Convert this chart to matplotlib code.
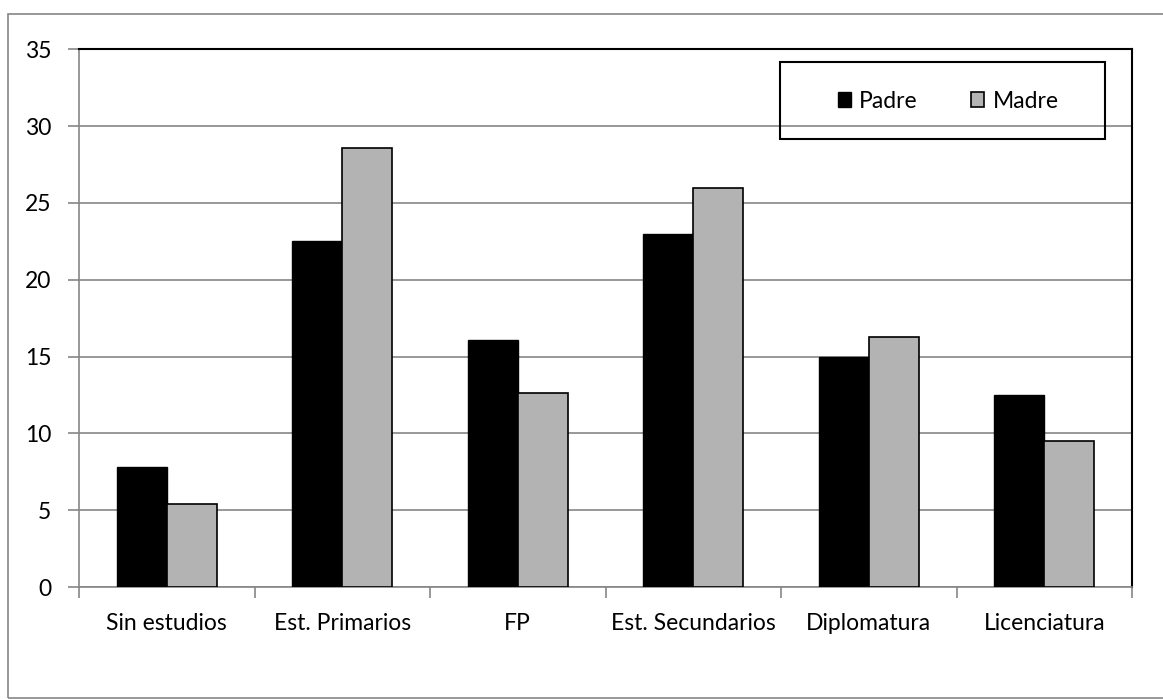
import numpy as np
from matplotlib import pyplot as plt
from matplotlib.patches import Rectangle

categorias = ["Sin estudios", "Est. Primarios", "FP", "Est. Secundarios", "Diplomatura", "Licenciatura"]
padre = [7.8, 22.5, 16.1, 23.0, 15.0, 12.5]
madre = [5.4, 28.6, 12.6, 26.0, 16.3, 9.5]
y_ticks = [0, 5, 10, 15, 20, 25, 30, 35]

GRIS_EJE = "#868686"
GRIS_BARRA = "#b3b3b3"

plt.rcParams['font.family'] = ['Lato', 'DejaVu Sans']

W, H = 1163, 699
fig = plt.figure(figsize=(W / 100, H / 100), dpi=100)

# marco exterior del grafico (solo se ven los bordes superior e izquierdo)
fig.patches.append(Rectangle((8 / W, 1 - 698 / H), 1.2, (698 - 14) / H,
                             transform=fig.transFigure, fill=False,
                             edgecolor=GRIS_EJE, linewidth=1.2))

ax_left, ax_right, ax_top, ax_bottom = 79, 1132, 49.3, 587
ax = fig.add_axes([ax_left / W, 1 - ax_bottom / H, (ax_right - ax_left) / W, (ax_bottom - ax_top) / H])

x = np.arange(len(categorias))
ancho = 0.285
ax.bar(x - ancho / 2, padre, ancho, color="black", edgecolor="black", linewidth=1, label="Padre", zorder=3)
ax.bar(x + ancho / 2, madre, ancho, color=GRIS_BARRA, edgecolor="black", linewidth=1.2, label="Madre", zorder=3)

ax.set_xlim(-0.5, len(categorias) - 0.5)
ax.set_ylim(0, 35)
ax.set_yticks(y_ticks)
ax.set_yticklabels([str(v) for v in y_ticks], fontsize=16.5)
ax.yaxis.grid(True, color=GRIS_EJE, linewidth=1.2, zorder=0)

# marcas del eje x entre categorias, etiquetas centradas
ax.set_xticks(np.arange(len(categorias) + 1) - 0.5)
ax.set_xticklabels([])
ax.set_xticks(x, minor=True)
ax.set_xticklabels(categorias, minor=True, fontsize=16.5)
ax.tick_params(axis="x", which="minor", length=0, pad=19)
ax.tick_params(axis="x", which="major", length=8, color=GRIS_EJE, width=1.2)
ax.tick_params(axis="y", length=8, color=GRIS_EJE, width=1.2, pad=12)

for lado in ["left", "bottom"]:
    ax.spines[lado].set_color(GRIS_EJE)
    ax.spines[lado].set_linewidth(1.2)
for lado in ["top", "right"]:
    ax.spines[lado].set_color("black")
    ax.spines[lado].set_linewidth(1.5)


def fx(px):
    return (px - ax_left) / (ax_right - ax_left)


def fy(py):
    return (ax_bottom - py) / (ax_bottom - ax_top)


# caja de la leyenda, sin relleno (la rejilla se ve a traves)
caja = Rectangle((fx(780), fy(139.3)), fx(1105) - fx(780), fy(61.7) - fy(139.3),
                 transform=ax.transAxes, fill=False, edgecolor="black",
                 linewidth=1.5, zorder=4)
ax.add_patch(caja)

leg = ax.legend(loc="center", bbox_to_anchor=(fx(948), fy(101)),
                ncol=2, frameon=False, fontsize=16.5,
                handlelength=0.6, handleheight=0.6, handletextpad=0.35, columnspacing=2.3,
                borderpad=0, borderaxespad=0)
leg.set_zorder(5)

fig.savefig("out.png", dpi=100)
